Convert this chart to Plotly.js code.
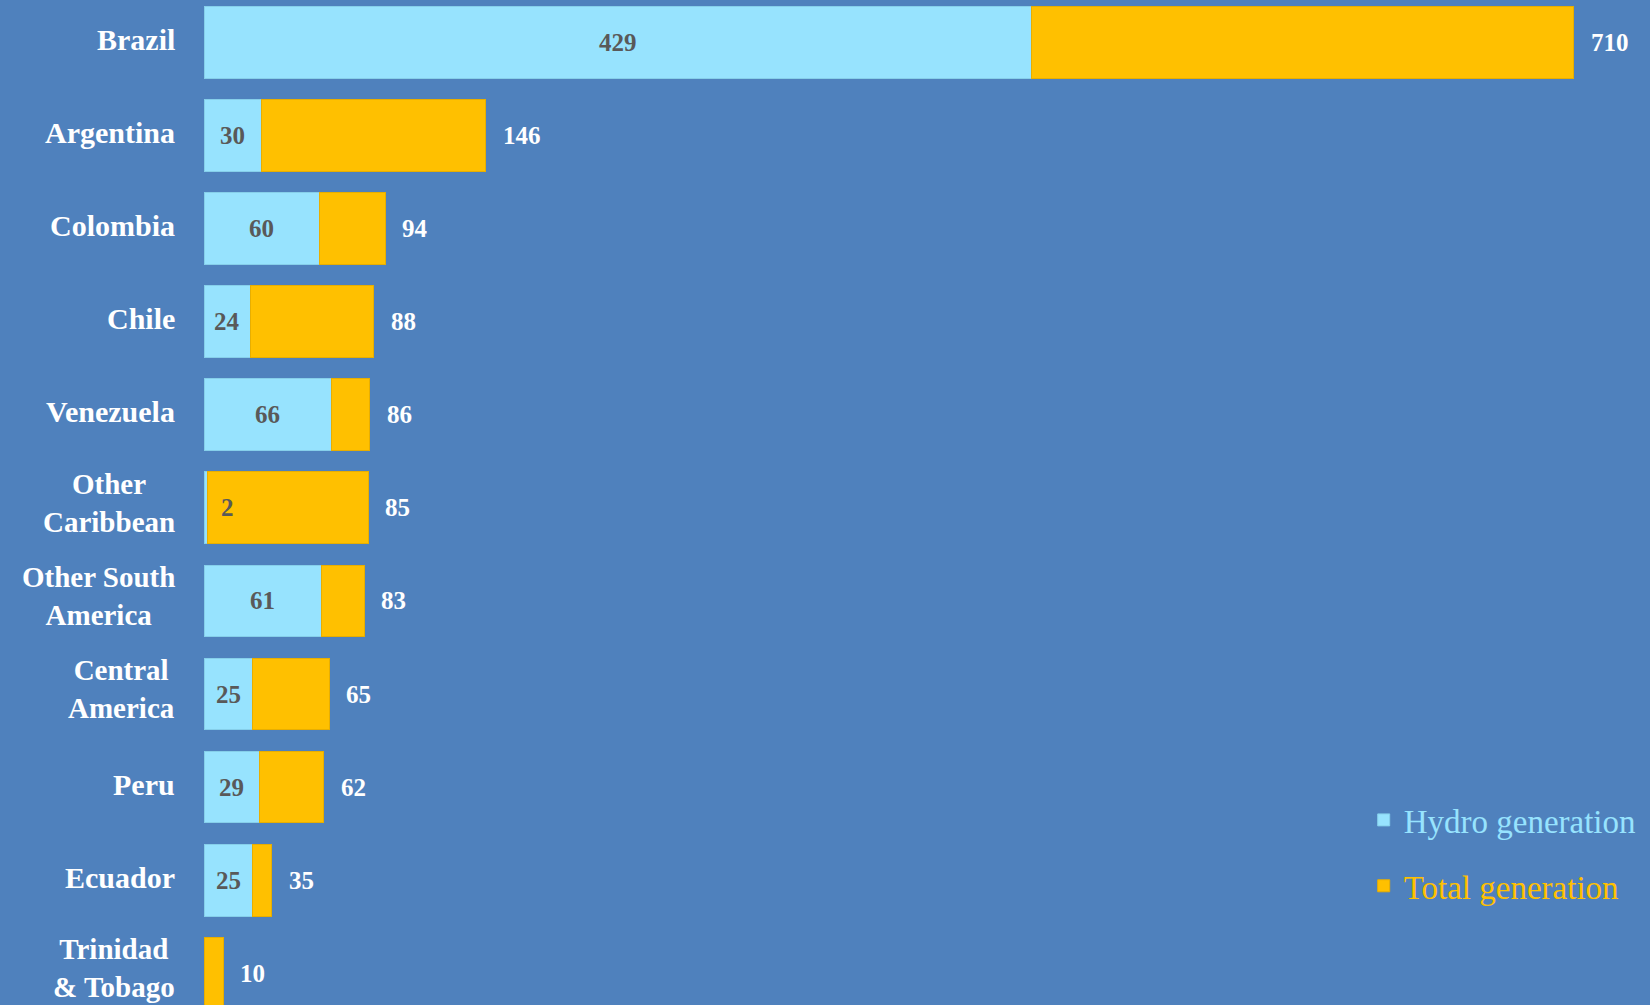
<!DOCTYPE html>
<html>
<head>
<meta charset="utf-8">
<script src="https://cdn.plot.ly/plotly-3.0.1.min.js"></script>
<style>html,body{margin:0;padding:0;background:#4F81BD;}#chart{width:1650px;height:1005px;}</style>
</head>
<body>
<div id="chart"></div>
<script>
const countries = ["Brazil","Argentina","Colombia","Chile","Venezuela","Other Caribbean","Other South America","Central America","Peru","Ecuador","Trinidad & Tobago"];
const tickLabels = ["Brazil","Argentina","Colombia","Chile","Venezuela","Other<br>Caribbean","Other South<br>America","Central<br>America","Peru","Ecuador","Trinidad<br>& Tobago"];
const hydro = [429,30,60,24,66,2,61,25,29,25,0];
const total = [710,146,94,88,86,85,83,65,62,35,10];

const FONT = '"Liberation Serif", "Times New Roman", serif';
const BG = '#4F81BD';
const HYDRO_C = '#97E3FE';
const TOTAL_C = '#FFC000';

const rest = total.map((t,i)=>t-hydro[i]);

const traces = [
  {type:'bar', orientation:'h', y:countries, x:hydro, name:'<span style="color:'+HYDRO_C+'">Hydro generation</span>',
   legendgroup:'a', marker:{color:HYDRO_C, line:{color:'#86CFEA', width:1}}, hoverinfo:'skip'},
  {type:'bar', orientation:'h', y:countries, x:rest, name:'<span style="color:'+TOTAL_C+'">Total generation</span>',
   legendgroup:'b', marker:{color:TOTAL_C, line:{color:'#E8AE00', width:1}}, hoverinfo:'skip'}
];

const annotations = [];
countries.forEach((c,i)=>{
  const multi = tickLabels[i].indexOf('<br>') >= 0;
  annotations.push({xref:'paper', x:0, xshift:-27, xanchor:'right', yref:'y', y:c, yanchor:'middle',
    yshift: multi ? 5 : 3,
    text:'<b>'+tickLabels[i]+'</b>', align:'center', showarrow:false,
    font:{family:FONT, size: multi ? 29 : 30, color:'#FFFFFF'}});
  if (hydro[i] > 0) {
    annotations.push({xref:'x', x:Math.max(hydro[i]/2, 12), xanchor:'center', yref:'y', y:c, yanchor:'middle',
      text:'<b>'+hydro[i]+'</b>', showarrow:false, font:{family:FONT, size:25, color:'#595959'}});
  }
  annotations.push({xref:'x', x:total[i], xanchor:'left', xshift:15, yref:'y', y:c, yanchor:'middle',
    text:'<b>'+total[i]+'</b>', showarrow:false, font:{family:FONT, size:25, color:'#FFFFFF'}});
});

const layout = {
  width:1650, height:1005,
  paper_bgcolor:BG, plot_bgcolor:BG,
  margin:{l:204, r:0, t:0, b:0, autoexpand:false},
  barmode:'stack', bargap:0.226,
  xaxis:{range:[0,749.4], visible:false, fixedrange:true},
  yaxis:{type:'category', categoryarray:countries, range:[10.344,-0.462], showticklabels:false,
         showgrid:false, zeroline:false, showline:false, ticks:'', fixedrange:true},
  showlegend:true,
  legend:{xref:'paper', yref:'paper', x:0.802, y:0.212, xanchor:'left', yanchor:'top',
          bgcolor:'rgba(0,0,0,0)', traceorder:'grouped', tracegroupgap:20,
          font:{family:FONT, size:33, color:'#FFFFFF'}},
  annotations:annotations
};

Plotly.newPlot('chart', traces, layout, {displayModeBar:false, staticPlot:true});
</script>
</body>
</html>
